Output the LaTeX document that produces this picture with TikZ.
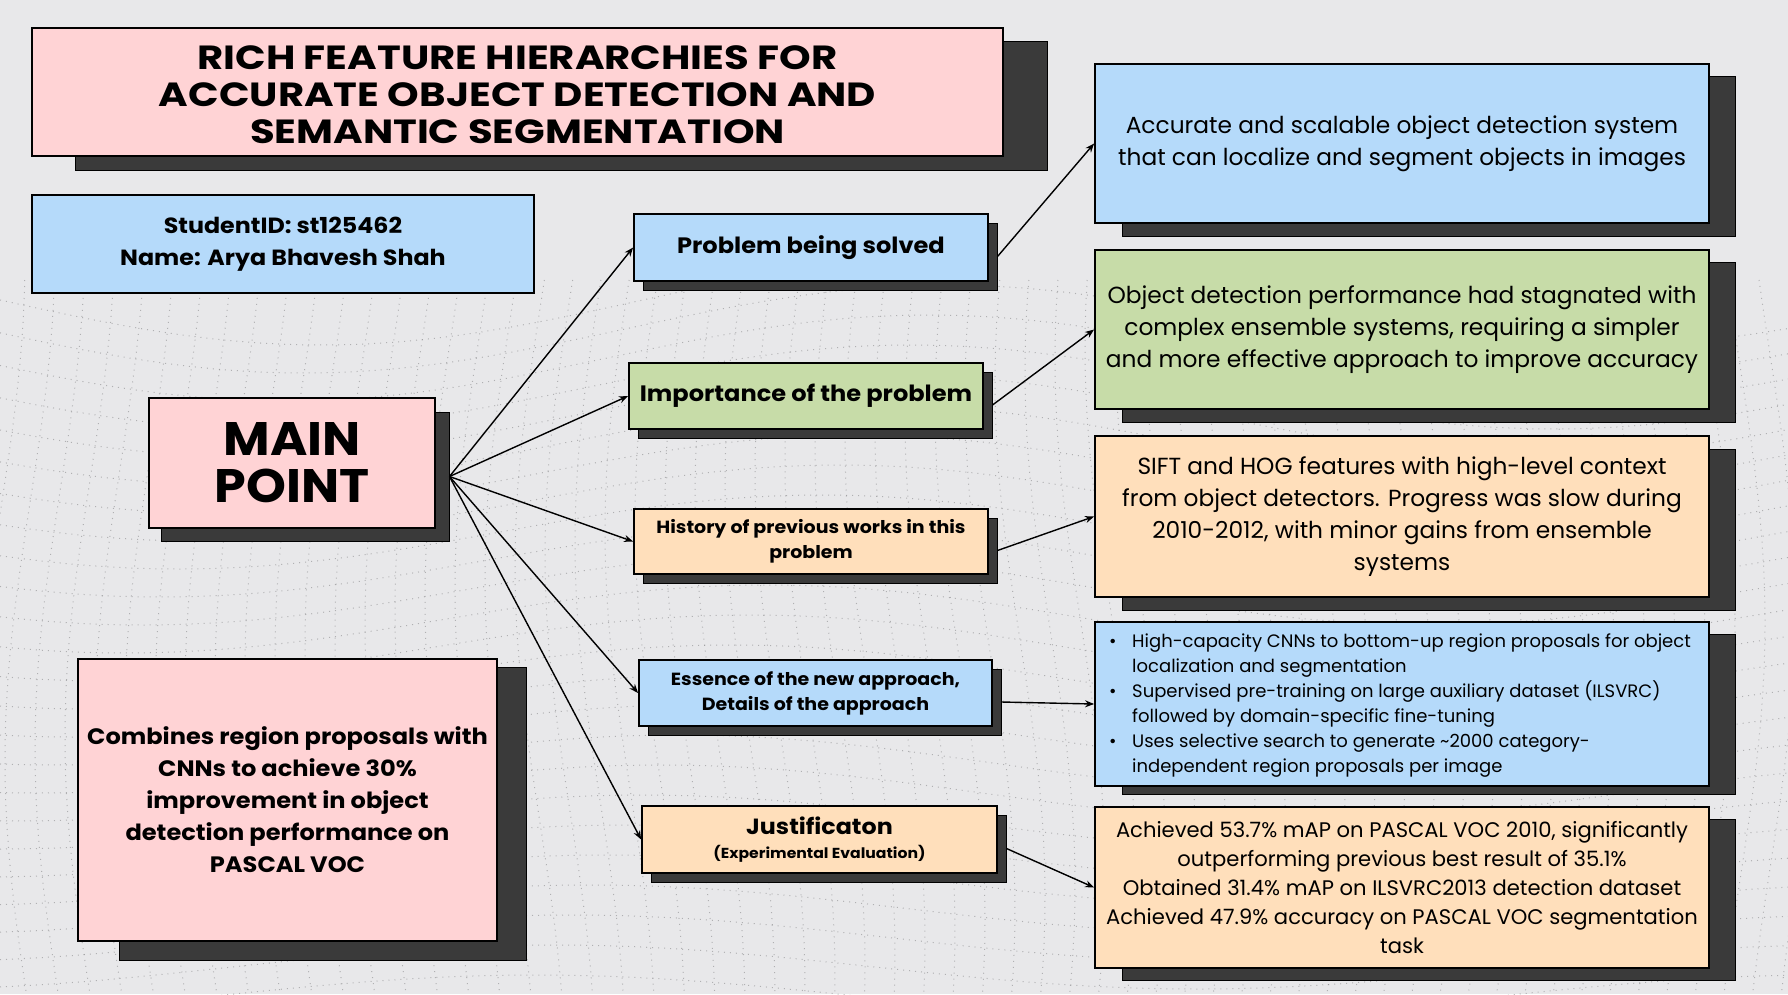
\documentclass[tikz,border=0pt]{standalone}
\usepackage{fontspec}
\setmainfont{Poppins}
\newfontfamily\titlefont{Poppins}[FakeStretch=1.2]
\newfontfamily\widebold{Poppins}[FakeStretch=1.08]
\usetikzlibrary{arrows.meta}
\definecolor{bgc}{RGB}{232,232,234}
\definecolor{pinkc}{RGB}{255,211,213}
\definecolor{bluec}{RGB}{181,218,250}
\definecolor{greenc}{RGB}{199,220,168}
\definecolor{peachc}{RGB}{255,223,187}
\definecolor{shadc}{RGB}{58,58,58}
\definecolor{meshc}{RGB}{140,140,142}
\tikzset{
  box/.style={draw=black, line width=1.8pt, inner sep=0pt, align=center, text=black},
  shadowbox/.style={fill=shadc, draw=black, line width=1pt, inner sep=0pt},
  conn/.style={line width=1.4pt, -{Stealth[length=9pt,width=7pt]}},
  meshdot/.style={meshc, line width=1pt, dash pattern=on 1pt off 5pt, opacity=0.6},
  fbig/.style={font=\fontsize{23.3}{32}\selectfont},
  fbold/.style={font=\widebold\bfseries\fontsize{22.3}{32}\selectfont},
  fmid/.style={font=\widebold\bfseries\fontsize{17.6}{25}\selectfont},
}
\begin{document}
\begin{tikzpicture}[x=1pt,y=-1pt]
\useasboundingbox[fill=bgc] (0,0) rectangle (1788,994);
% background mesh
\begin{scope}
\clip (0,270) rectangle (1788,994);
\foreach \i in {0,...,24} {
  \draw[meshdot] plot[domain=0:1788, samples=50, smooth] (\x, {300 + \i*29 + (45-\i)*sin(\x*0.28 + \i*5)});
}
\foreach \j in {0,...,60} {
  \draw[meshdot] plot[domain=280:994, samples=30, smooth] ({\j*30 + 25*sin(\x*0.35 + \j*4)}, \x);
}
\end{scope}

% shadows
\node[shadowbox, minimum width=972pt, minimum height=129pt] (titlesh) at (561,105.5) {};
\node[shadowbox, minimum width=288pt, minimum height=129pt] (mainsh) at (305,476.5) {};
\node[shadowbox, minimum width=407pt, minimum height=293pt] (combsh) at (322.5,813.5) {};
\node[shadowbox, minimum width=354pt, minimum height=67pt] (probsh) at (820,256.5) {};
\node[shadowbox, minimum width=354pt, minimum height=66pt] (impsh) at (815,405) {};
\node[shadowbox, minimum width=354pt, minimum height=65pt] (histsh) at (820,550.5) {};
\node[shadowbox, minimum width=353pt, minimum height=66pt] (esssh) at (824.5,702) {};
\node[shadowbox, minimum width=355pt, minimum height=67pt] (justsh) at (828.5,848.5) {};
\node[shadowbox, minimum width=613pt, minimum height=160pt] (r1sh) at (1428.5,156) {};
\node[shadowbox, minimum width=613pt, minimum height=160pt] (r2sh) at (1428.5,342) {};
\node[shadowbox, minimum width=613pt, minimum height=161pt] (r3sh) at (1428.5,529.5) {};
\node[shadowbox, minimum width=613pt, minimum height=160pt] (r4sh) at (1428.5,714) {};
\node[shadowbox, minimum width=613pt, minimum height=161pt] (r5sh) at (1428.5,899.5) {};

% boxes
\node[box, fill=pinkc, minimum width=971pt, minimum height=128pt] (title) at (517.5,92) {};
\node[align=center, inner sep=0pt, font=\titlefont\bfseries\fontsize{33.5}{37}\selectfont] (titletext) at (517.5,95)
  {RICH FEATURE HIERARCHIES FOR\\ACCURATE OBJECT DETECTION AND\\SEMANTIC SEGMENTATION};
\node[box, fill=bluec, minimum width=502pt, minimum height=98pt, font=\widebold\bfseries\fontsize{22}{32}\selectfont] (student) at (283,244)
  {StudentID: st125462\\Name: Arya Bhavesh Shah};
\node[box, fill=pinkc, minimum width=286pt, minimum height=130pt, font=\widebold\bfseries\fontsize{47}{47}\selectfont] (main) at (292,463)
  {MAIN\\POINT};
\node[box, fill=pinkc, minimum width=419pt, minimum height=282pt, font=\widebold\bfseries\fontsize{22.3}{32}\selectfont] (comb) at (287.5,800)
  {Combines region proposals with\\CNNs to achieve 30\%\\improvement in object\\detection performance on\\PASCAL VOC};
\node[box, fill=bluec, minimum width=354pt, minimum height=67pt, fbold] (prob) at (811,247.5) {Problem being solved};
\node[box, fill=greenc, minimum width=354pt, minimum height=66pt, fbold] (imp) at (806,396) {Importance of the problem};
\node[box, fill=peachc, minimum width=354pt, minimum height=65pt, fmid] (hist) at (811,541.5) {History of previous works in this\\problem};
\node[box, fill=bluec, minimum width=353pt, minimum height=66pt, fmid] (ess) at (815.5,693) {Essence of the new approach,\\Details of the approach};
\node[box, fill=peachc, minimum width=355pt, minimum height=67pt, font=\widebold\bfseries\fontsize{22}{26}\selectfont] (just) at (819.5,839.5)
  {Justificaton\\[-2pt]{\fontsize{14.5}{18}\selectfont (Experimental Evaluation)}};

\node[box, fill=bluec, minimum width=614pt, minimum height=159pt, fbig] (r1) at (1402,143.5)
  {Accurate and scalable object detection system\\that can localize and segment objects in images};
\node[box, fill=greenc, minimum width=614pt, minimum height=159pt, fbig] (r2) at (1402,329.5)
  {Object detection performance had stagnated with\\complex ensemble systems, requiring a simpler\\and more effective approach to improve accuracy};
\node[box, fill=peachc, minimum width=614pt, minimum height=161pt, fbig] (r3) at (1402,516.5)
  {SIFT and HOG features with high-level context\\from object detectors. Progress was slow during\\2010-2012, with minor gains from ensemble\\systems};
\node[box, fill=bluec, minimum width=614pt, minimum height=164pt] (r4) at (1402,704) {};
\node[anchor=west, align=left, inner sep=0pt, font=\fontsize{18}{25}\selectfont] (r4text) at (1109,706)
  {\makebox[23pt][l]{\textbullet}High-capacity CNNs to bottom-up region proposals for object\\
   \hspace*{23pt}localization and segmentation\\
   \makebox[23pt][l]{\textbullet}Supervised pre-training on large auxiliary dataset (ILSVRC)\\
   \hspace*{23pt}followed by domain-specific fine-tuning\\
   \makebox[23pt][l]{\textbullet}Uses selective search to generate \textasciitilde2000 category-\\
   \hspace*{23pt}independent region proposals per image};
\node[box, fill=peachc, minimum width=614pt, minimum height=161pt, font=\fontsize{21.1}{29}\selectfont] (r5) at (1402,887.5)
  {Achieved 53.7\% mAP on PASCAL VOC 2010, significantly\\outperforming previous best result of 35.1\%\\Obtained 31.4\% mAP on ILSVRC2013 detection dataset\\Achieved 47.9\% accuracy on PASCAL VOC segmentation\\task};

% connectors
\draw[conn] (mainsh.east) -- (prob.west);
\draw[conn] (mainsh.east) -- (imp.west);
\draw[conn] (mainsh.east) -- (hist.west);
\draw[conn] (mainsh.east) -- (ess.west);
\draw[conn] (mainsh.east) -- (just.west);
\draw[conn] (probsh.east) -- (r1.west);
\draw[conn] (impsh.east) -- (r2.west);
\draw[conn] (histsh.east) -- (r3.west);
\draw[conn] (esssh.east) -- (r4.west);
\draw[conn] (justsh.east) -- (r5.west);
\end{tikzpicture}
\end{document}
